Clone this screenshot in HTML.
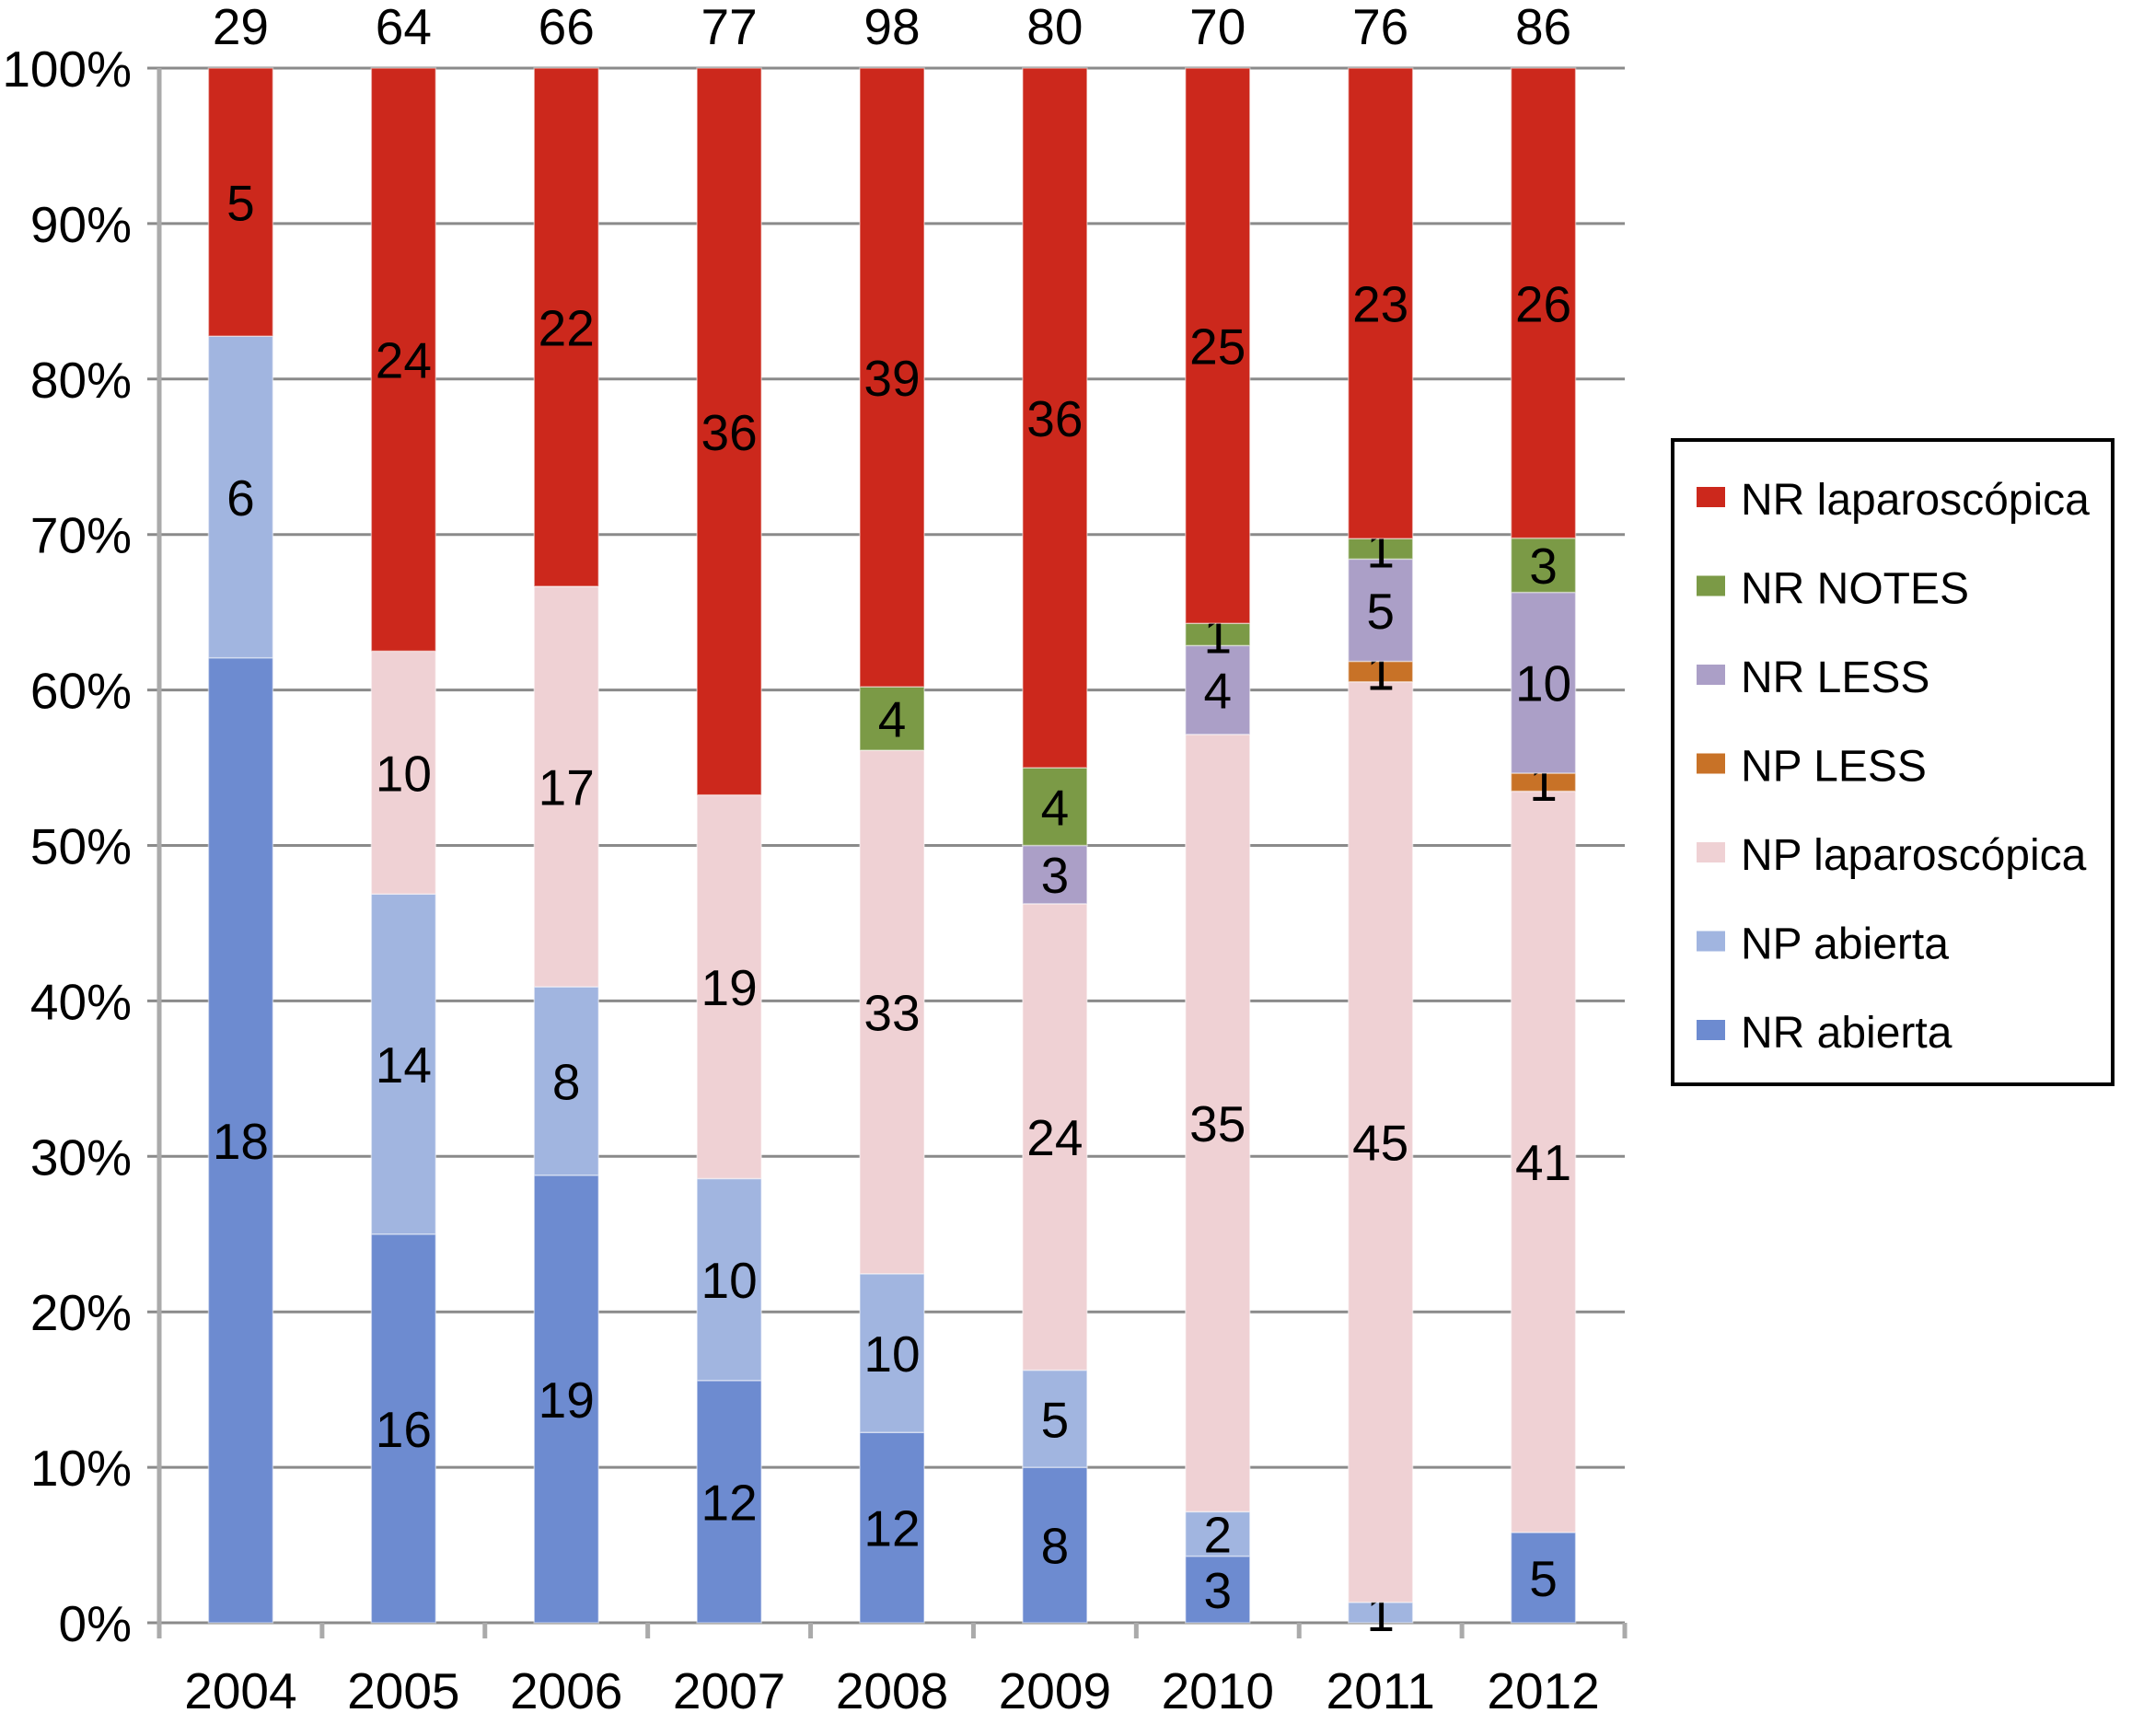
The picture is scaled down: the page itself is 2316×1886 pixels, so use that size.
<!DOCTYPE html>
<html><head><meta charset="utf-8"><style>
html,body{margin:0;padding:0;background:#fff;}
svg text{font-family:"Liberation Sans",Arial,sans-serif;fill:#000;}
</style></head><body>
<svg id="chart" width="2316" height="1881" viewBox="0 0 2316 1881" xmlns="http://www.w3.org/2000/svg">
<g id="grid"></g>
<g id="bars"></g>
<g id="axes"></g>
<g id="legend"></g>
</svg>
<script>
const categories = ["2004","2005","2006","2007","2008","2009","2010","2011","2012"];
const seriesNames = ["NR abierta","NP abierta","NP laparoscópica","NP LESS","NR LESS","NR NOTES","NR laparoscópica"];
const nrAbierta = [18,16,19,12,12,8,3,0,5];
const npAbierta = [6,14,8,10,10,5,2,1,0];
const npLaparo = [0,10,17,19,33,24,35,45,41];
const npLess = [0,0,0,0,0,0,0,1,1];
const nrLess = [0,0,0,0,0,3,4,5,10];
const nrNotes = [0,0,0,0,4,4,1,1,3];
const nrLaparo = [5,24,22,36,39,36,25,23,26];
const yTicks = ["0%","10%","20%","30%","40%","50%","60%","70%","80%","90%","100%"];

const series = [nrAbierta,npAbierta,npLaparo,npLess,nrLess,nrNotes,nrLaparo];
const colors = ["#6d8bd0","#a1b5e0","#efd1d4","#c87227","#ab9fc7","#7b9a46","#cc281c"];
const NS="http://www.w3.org/2000/svg";
const X0=173, X1=1765, Y0=1763, Y100=74, BW=70, FS=55;
const step=(X1-X0)/categories.length;
const xC=i=>X0+step*(i+0.5);
const yS=f=>Y0-(Y0-Y100)*f;
function mk(tag,attrs,parent){const e=document.createElementNS(NS,tag);for(const k in attrs)e.setAttribute(k,attrs[k]);parent.appendChild(e);return e;}
const grid=document.getElementById('grid'),bars=document.getElementById('bars'),axes=document.getElementById('axes'),legend=document.getElementById('legend');

yTicks.forEach((t,i)=>{
  const y=yS(i/10);
  const l=mk('line',{x1:160,x2:X1,y1:y,y2:y,stroke:'#8a8a8a','stroke-width':3},grid);
  
  
  const tx=mk('text',{x:143,y:y+20,'font-size':FS,'text-anchor':'end'},axes);
  tx.textContent=t;
  
  
});
const ax=mk('line',{x1:X0,x2:X0,y1:Y100,y2:Y0+17,stroke:'#aaa','stroke-width':5},axes);


for(let i=0;i<=categories.length;i++){
  const x=X0+step*i;
  const tk=mk('line',{x1:x,x2:x,y1:Y0,y2:Y0+17,stroke:'#aaa','stroke-width':5},axes);
  
  
}

categories.forEach((c,i)=>{
  const total=series.reduce((s,a)=>s+a[i],0);
  let cum=0;
  series.forEach((arr,k)=>{
    const v=arr[i]; if(!v) return;
    const yb=yS(cum/total), yt=yS((cum+v)/total);
    const r=mk('rect',{x:xC(i)-BW/2,y:yt,width:BW,height:yb-yt,fill:colors[k],stroke:'rgba(255,255,255,0.45)','stroke-width':1.5},bars);
    
    
    const t=mk('text',{x:xC(i),y:(yb+yt)/2+20,'font-size':FS,'text-anchor':'middle'},bars);
    t.textContent=v;
    
    
    cum+=v;
  });
  const tt=mk('text',{x:xC(i),y:48,'font-size':FS,'text-anchor':'middle'},axes);
  tt.textContent=total;
  
  
  const xl=mk('text',{x:xC(i),y:1856,'font-size':FS,'text-anchor':'middle'},axes);
  xl.textContent=c;
  
  
});

const box=mk('rect',{x:1817,y:478,width:478,height:700,fill:'#fff',stroke:'#000','stroke-width':4},legend);


for(let j=0;j<7;j++){
  const k=6-j, y=544+j*96.5;
  const sw=mk('rect',{x:1843,y:y-15,width:31,height:22,fill:colors[k]},legend);
  
  
  const t=mk('text',{x:1891,y:y+15,'font-size':48},legend);
  t.textContent=seriesNames[k];
  
  
}
</script>
</body></html>
